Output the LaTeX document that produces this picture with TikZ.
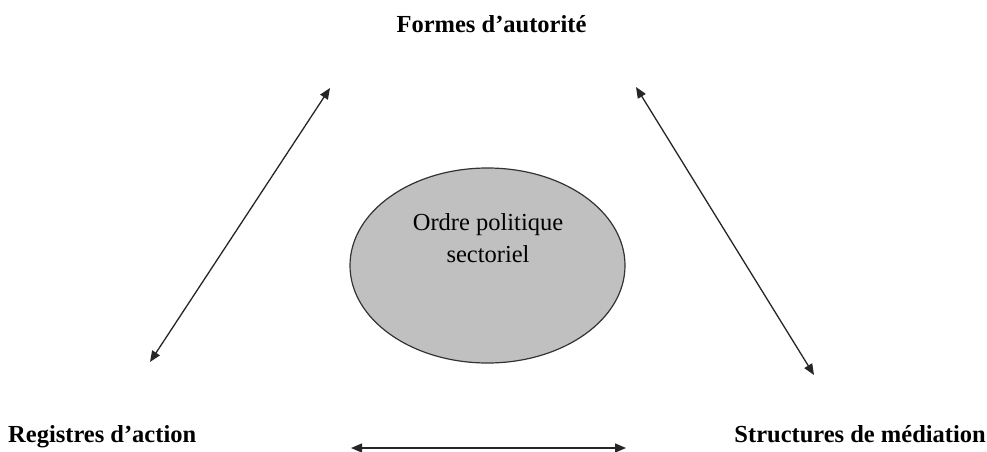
\documentclass[tikz,border=0pt]{standalone}
\usepackage{fontspec}
\setmainfont{Liberation Serif}
\usetikzlibrary{arrows.meta,shapes.geometric}
\begin{document}
\begin{tikzpicture}[x=1pt,y=-1pt,
  lbl/.style={inner sep=0pt,font=\fontsize{24.5}{30}\selectfont\bfseries},
  txt/.style={inner sep=0pt,font=\fontsize{24.5}{30}\selectfont},
  dbl/.style={line width=1.3pt,draw=black!85,{Triangle[length=11pt,width=9pt]}-{Triangle[length=11pt,width=9pt]}}]
\useasboundingbox[fill=white] (0,0) rectangle (987,452);
\node[ellipse,draw=black!80,line width=1.2pt,fill={rgb,255:red,192;green,192;blue,192},
  minimum width=275pt,minimum height=195pt,inner sep=0pt] (circ) at (487.5,265.5) {};
\node[txt,anchor=base] (t1) at (488,230) {Ordre politique};
\node[txt,anchor=base] (t2) at (488,262) {sectoriel};
\node[lbl,anchor=base] (top) at (491.5,33) {Formes d’autorité};
\node[lbl,anchor=base west] (left) at (8,442) {Registres d’action};
\node[lbl,anchor=base east] (right) at (986,442) {Structures de médiation};
\coordinate (la) at (330,88);
\coordinate (lb) at (150,362);
\coordinate (ra) at (636,87);
\coordinate (rb) at (814,375);
\coordinate (ba) at (351,448);
\coordinate (bb) at (626,448);
\draw[dbl] (la) -- (lb);
\draw[dbl] (ra) -- (rb);
\draw[dbl] (ba) -- (bb);
\end{tikzpicture}
\end{document}
